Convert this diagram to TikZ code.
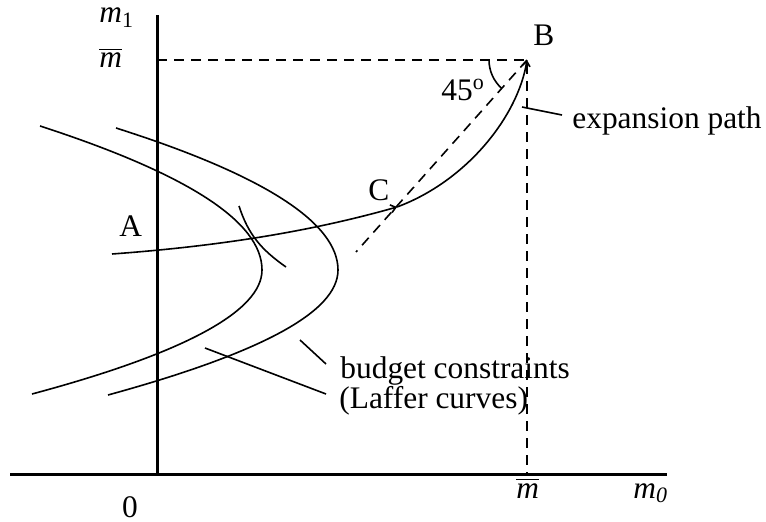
\documentclass[tikz,border=0pt]{standalone}
\usepackage{fontspec}
\setmainfont{Liberation Serif}
\usepackage{amsmath}
\usetikzlibrary{arrows.meta,calc}

\begin{document}
\begin{tikzpicture}[x=0.5pt,y=0.5pt,
  axis/.style={line width=1.5pt},
  curve/.style={line width=0.8pt},
  guide/.style={line width=0.8pt,dash pattern=on 5pt off 3.5pt},
  leader/.style={line width=0.8pt},
  lbl/.style={font=\fontsize{15.7}{18}\selectfont,inner sep=0pt},
  tip/.style={-{Straight Barb[length=2.5pt,width=4pt]}},
]
  \useasboundingbox (0,0) rectangle (766,521);

  % axes
  \coordinate (O) at (157,47);
  \coordinate (ytop) at (157,506);
  \coordinate (xleft) at (10,47);
  \coordinate (xright) at (667,47);
  \draw[axis] (O) -- (ytop);
  \draw[axis] (xleft) -- (xright);

  % point B, dashed guides and the 45 degree line
  \coordinate (B) at (527,461);
  \coordinate (mtick) at (157,461);
  \coordinate (mfoot) at (527,47);
  \coordinate (diagend) at (356,269);
  \draw[guide] (mtick) -- (B) -- (mfoot);
  \draw[guide] (B) -- (diagend);
  \draw[curve] ($(B)+(-38,0)$) arc[start angle=180,end angle=228,radius=38];

  % budget constraints (Laffer curves)
  \draw[curve] (40,395) .. controls (188,347) and (262,299) .. (262,251)
    .. controls (262,210) and (185,168) .. (32,127);
  \draw[curve] (116,393) .. controls (264,346) and (338,298) .. (338,251)
    .. controls (338,209) and (261,168) .. (108,126);

  % indifference curve
  \draw[curve] (239,315) to[out=-72,in=145] (286,254);

  % expansion path
  \coordinate (pA) at (112,267);
  \coordinate (pC) at (397,314);
  \draw[curve,tip] (pA) .. controls (207,274) and (302,287) .. (pC);
  \draw[curve,tip] (pC) .. controls (467,340) and (518,405) .. (B);

  % labels
  \node[lbl,anchor=base west] (m1) at (99,498) {\textit{m}\textsubscript{1}};
  \node[lbl,anchor=base west] (mbarY) at (99,453) {$\overline{\textit{m}}$};
  \node[lbl,anchor=base west] (lblB) at (533,476) {B};
  \node[lbl,anchor=base west] (lblC) at (368,321) {C};
  \node[lbl,anchor=base west] (lblA) at (119,285) {A};
  \node[lbl,anchor=base west] (angle) at (441,421) {45\textsuperscript{o}};
  \node[lbl,anchor=base west] (exp) at (572,393) {expansion path};
  \node[lbl,anchor=base west] (bc) at (340,143) {budget constraints};
  \node[lbl,anchor=base west] (laffer) at (339,113) {(Laffer curves)};
  \node[lbl,anchor=base] (zero) at (130,4) {0};
  \node[lbl,anchor=base west] (mbarX) at (516,23) {$\overline{\textit{m}}$};
  \node[lbl,anchor=base west] (m0) at (633,23) {\textit{m}\textsubscript{\textit{0}}};

  % leaders
  \coordinate (expfoot) at (522,414);
  \coordinate (expend) at (562,406);
  \coordinate (bcfoot) at (300,181);
  \coordinate (bcend) at (326,157);
  \coordinate (lafoot) at (205,173);
  \coordinate (laend) at (326,127);
  \draw[leader] (expfoot) -- (expend);
  \draw[leader] (bcfoot) -- (bcend);
  \draw[leader] (lafoot) -- (laend);
\end{tikzpicture}
\end{document}
